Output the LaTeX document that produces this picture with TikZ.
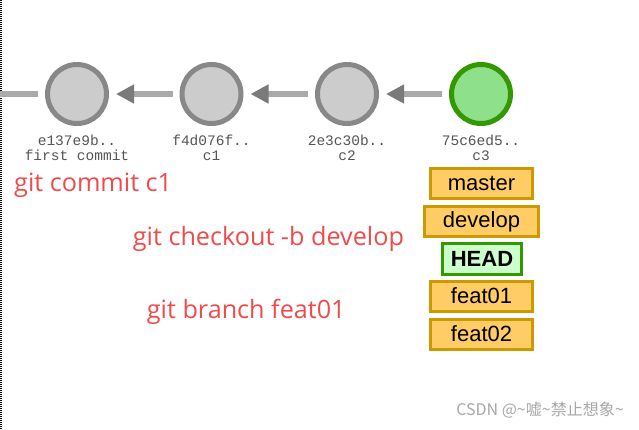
\documentclass[tikz,border=0pt]{standalone}
\usepackage{fontspec}
\setmainfont{Liberation Sans}
\newfontfamily\hashfont{Liberation Mono}
\newfontfamily\cmdfont{Open Sans}
\newfontfamily\cjk{Noto Sans CJK SC}
\usetikzlibrary{arrows.meta}
\definecolor{cgrayfill}{HTML}{CCCCCC}
\definecolor{cgraydraw}{HTML}{888888}
\definecolor{cgreenfill}{HTML}{8FE08B}
\definecolor{cgreendraw}{HTML}{339900}
\definecolor{clinegray}{HTML}{AAAAAA}
\definecolor{ctipgray}{HTML}{7A7A7A}
\definecolor{chashgray}{HTML}{555555}
\definecolor{cbranchfill}{HTML}{FFCC66}
\definecolor{cbranchdraw}{HTML}{CC9900}
\definecolor{cheadfill}{HTML}{CCFFCC}
\definecolor{ccmdred}{HTML}{F04B4B}
\definecolor{cmark}{HTML}{A8A8A8}
\begin{document}
\begin{tikzpicture}[x=1pt,y=-1pt,
  commit/.style={circle,minimum size=59pt,inner sep=0pt,line width=5pt,draw=cgraydraw,fill=cgrayfill},
  headcommit/.style={commit,draw=cgreendraw,fill=cgreenfill},
  parentlink/.style={line width=5.5pt,draw=clinegray,shorten >=7pt,shorten <=7pt,
    -{Triangle[length=18pt,width=18pt,color=ctipgray]}},
  stublink/.style={line width=5.5pt,draw=clinegray,shorten >=7pt},
  hashlabel/.style={font=\hashfont\fontsize{14.5}{15}\selectfont,text=chashgray,inner sep=0pt,align=center},
  branchbox/.style={draw=cbranchdraw,fill=cbranchfill,line width=3pt,minimum width=102pt,minimum height=30pt,
    inner xsep=6pt,inner ysep=0pt,font=\fontsize{22}{24}\selectfont},
  headbox/.style={draw=cgreendraw,fill=cheadfill,line width=3pt,minimum height=31pt,
    inner xsep=8pt,inner ysep=0pt,font=\bfseries\fontsize{22}{24}\selectfont},
  cmd/.style={anchor=base west,inner sep=0pt,text=ccmdred,font=\cmdfont\fontsize{25.2}{27}\selectfont},
  watermark/.style={inner sep=0pt,text=cmark,font=\cjk\fontsize{16}{18}\selectfont}]
\useasboundingbox (0,0) rectangle (639,429);
\fill[white] (0,0) rectangle (639,429);
\draw[line width=1.5pt,dash pattern=on 1pt off 1pt] (1,0) -- (1,429);

% commits
\node[commit] (c0) at (77,94) {};
\node[commit] (c1) at (211.5,94) {};
\node[commit] (c2) at (347,94) {};
\node[headcommit] (c3) at (481,94) {};
\coordinate (stub) at (0,94);

\draw[stublink] (stub) -- (c0);
\draw[parentlink] (c1) -- (c0);
\draw[parentlink] (c2) -- (c1);
\draw[parentlink] (c3) -- (c2);

% hash labels
\node[hashlabel] (h0) at (77,148) {e137e9b..\\[0pt]first commit};
\node[hashlabel] (h1) at (211.5,148) {f4d076f..\\[0pt]c1};
\node[hashlabel] (h2) at (347,148) {2e3c30b..\\[0pt]c2};
\node[hashlabel] (h3) at (481,148) {75c6ed5..\\[0pt]c3};

% branches
\node[branchbox] (master) at (481.5,183.5) {master};
\node[branchbox,minimum width=114pt] (develop) at (481.5,221.5) {develop};
\node[headbox] (head) at (482,259) {HEAD};
\node[branchbox] (feat01) at (481.5,296) {feat01};
\node[branchbox] (feat02) at (481.5,334) {feat02};

% commands
\node[cmd] (cmd1) at (14,191.7) {git commit c1};
\node[cmd] (cmd2) at (132.7,245) {git checkout -b develop};
\node[cmd] (cmd3) at (146.7,318.3) {git branch feat01};

\node[watermark] (wm) at (540,410.5) {CSDN @\textasciitilde 嘘\textasciitilde 禁止想象\textasciitilde};
\end{tikzpicture}
\end{document}
